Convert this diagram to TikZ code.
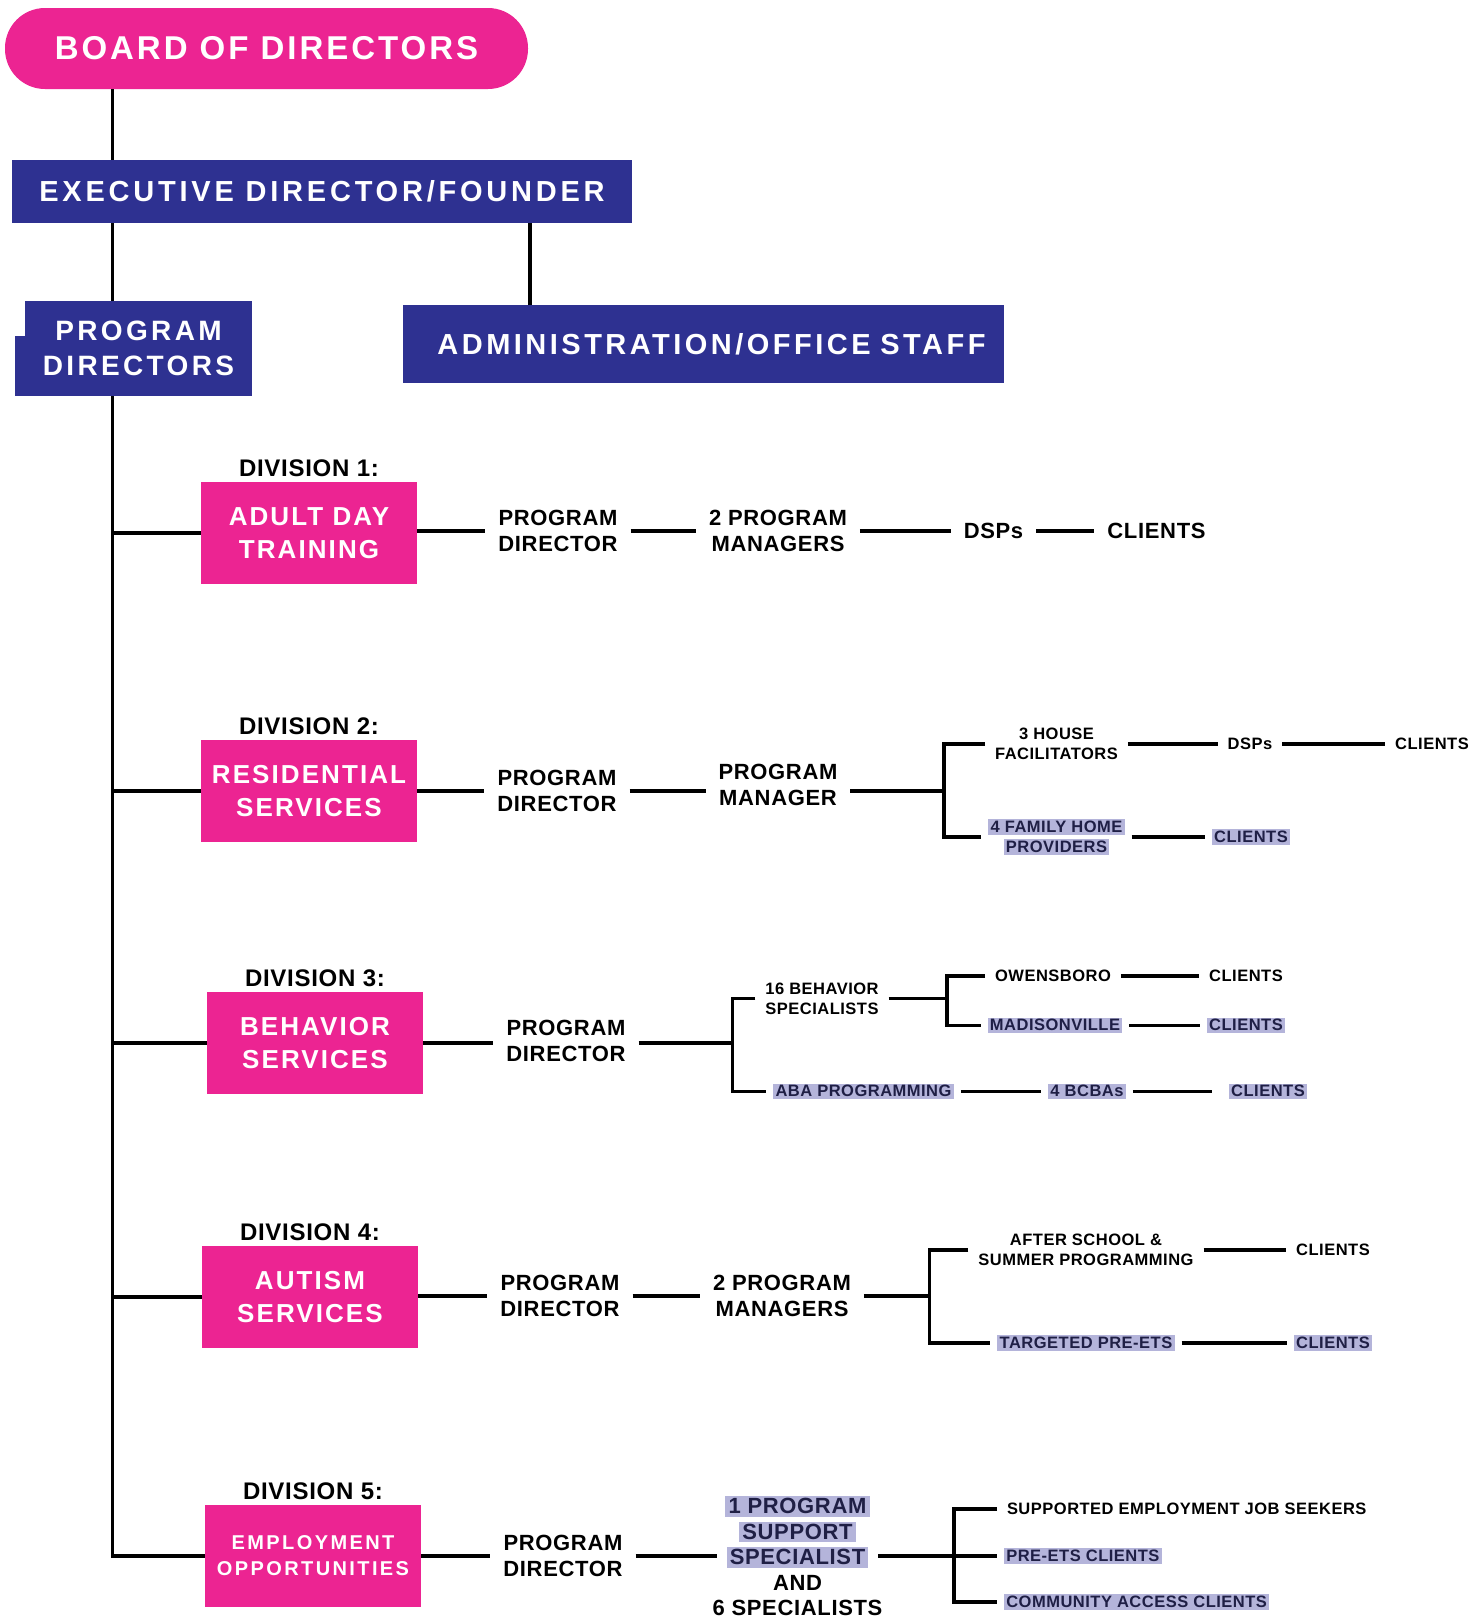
\documentclass[tikz,border=0pt]{standalone}
\usepackage{fontspec}
\setmainfont{Liberation Sans}
\usetikzlibrary{positioning}
\definecolor{OrgPink}{HTML}{EC2492}
\definecolor{OrgNavy}{HTML}{2E3191}
\definecolor{OrgLilac}{HTML}{B4B4DA}
\definecolor{OrgInk}{HTML}{1F1F45}
% bold, tracked text: size, baselineskip, letter spacing
\newcommand{\trk}[3]{\fontsize{#1}{#2}\selectfont\bfseries\addfontfeatures{LetterSpace=#3}}
% lilac marker behind a line of text
\newcommand{\hl}[1]{{\setlength{\fboxsep}{0.08em}\colorbox{OrgLilac}{\color{OrgInk}\rule[-0.06em]{0pt}{0.78em}\hspace{0.06em}#1\hspace{0.06em}}}}

\begin{document}
\begin{tikzpicture}[x=1pt, y=-1pt,
  every node/.style={inner sep=0pt, outer sep=0pt},
  navybox/.style={fill=OrgNavy, text=white, align=center},
  divbox/.style={fill=OrgPink, text=white, minimum width=216pt,
    minimum height=102pt, align=center, font=\trk{26}{33}{8}},
  divlab/.style={font=\trk{24}{28}{3}},
  txt/.style={align=center, inner xsep=13pt, font=\trk{22}{25.5}{3}},
  sml/.style={align=center, inner xsep=10pt, font=\trk{16.5}{19.6}{3}},
  hls/.style={sml, inner xsep=7pt},
  ln/.style={line width=3.2pt}
]
  \fill[white] (0,0) rectangle (1471,1618);
  \useasboundingbox (0,0) rectangle (1471,1618);

  % Top of the chart
  \node[navybox, fill=OrgPink, rounded corners=40pt, minimum width=523pt,
    minimum height=81pt, font=\trk{33}{38}{9}] (board) at (266.5,48.5) {BOARD OF DIRECTORS};
  \node[navybox, minimum width=620pt, minimum height=63pt,
    font=\trk{29}{34}{13}] (exec) at (322,191.5) {EXECUTIVE DIRECTOR/FOUNDER};
  \node[navybox, minimum width=227pt, minimum height=95pt,
    font=\trk{28}{35}{12}] (pdir) at (138.5,348.5) {PROGRAM\\DIRECTORS};
  \fill[OrgNavy] (pdir.south west) rectangle ++(-10.5,-60);
  \node[navybox, text width=564pt, inner xsep=18.5pt, minimum height=78pt,
    align=right, font=\trk{29}{34}{12}] (admin) at (703.5,344) {ADMINISTRATION/OFFICE STAFF};

  \coordinate (trunk) at (112.5,396);
  \draw[ln] (board.south -| trunk) -- (exec.north -| trunk);
  \draw[ln] (exec.south -| trunk) -- (pdir.north -| trunk);
  \path (admin.north west) ++(127,0) coordinate (admtop);
  \draw[ln] (admtop) -- (admtop |- exec.south);

  % Divisions
  \node[divbox] (div1) at (309,533) {ADULT DAY\\TRAINING};
  \node[divbox] (div2) at (309,791) {RESIDENTIAL\\SERVICES};
  \node[divbox] (div3) at (315,1043) {BEHAVIOR\\SERVICES};
  \node[divbox] (div4) at (310,1297) {AUTISM\\SERVICES};
  \node[divbox, font=\trk{20}{26}{12}] (div5) at (313,1556) {EMPLOYMENT\\OPPORTUNITIES};
  \foreach \i in {1,...,5}
    \node[divlab, above=5pt of div\i] (lab\i) {DIVISION \i:};

  \draw[ln] (trunk) |- (div5.west);
  \foreach \i in {1,...,4}
    \draw[ln] (trunk |- div\i.west) -- (div\i.west);

  % Division 1
  \node[txt] (pd1) at (558,531) {PROGRAM\\DIRECTOR};
  \node[txt] (pm1) at (778,531) {2 PROGRAM\\MANAGERS};
  \node[txt, text depth=0pt] (dsp1) at (993.5,531) {DSPs};
  \node[txt] (cl1) at (1156.5,531) {CLIENTS};
  \draw[ln] (div1.east |- pd1) -- (pd1) -- (pm1) -- (dsp1) -- (cl1);

  % Division 2
  \node[txt] (pd2) at (557,791) {PROGRAM\\DIRECTOR};
  \node[txt] (pm2) at (778,785) {PROGRAM\\MANAGER};
  \coordinate (b2) at (944,791);
  \node[sml] (hf2) at (1056.5,744) {3 HOUSE\\FACILITATORS};
  \node[sml, text depth=0pt] (dsp2) at (1250,744) {DSPs};
  \node[sml] (cl2) at (1432,744) {CLIENTS};
  \node[hls] (fh2) at (1056.5,837) {\hl{4 FAMILY HOME}\\\hl{PROVIDERS}};
  \node[hls] (cf2) at (1251,837) {\hl{CLIENTS}};
  \draw[ln] (div2) -- (pd2);
  \draw[ln] (pd2.east) -- (pd2.east -| pm2.west);
  \draw[ln] (pm2.east |- b2) -- (b2);
  \draw[ln] (hf2.west) -| (b2) |- (fh2.west);
  \draw[ln] (hf2) -- (dsp2) -- (cl2);
  \draw[ln] (fh2) -- (cf2);

  % Division 3
  \node[txt] (pd3) at (566,1041) {PROGRAM\\DIRECTOR};
  \coordinate (b3) at (732.5,1043);
  \node[sml] (bs3) at (822,998.6) {16 BEHAVIOR\\SPECIALISTS};
  \coordinate (b3b) at (947,998.6);
  \node[sml] (ow3) at (1053,976) {OWENSBORO};
  \node[sml] (co3) at (1246,976) {CLIENTS};
  \node[hls] (md3) at (1055,1025.4) {\hl{MADISONVILLE}};
  \node[hls] (cm3) at (1246,1025.4) {\hl{CLIENTS}};
  \node[hls] (aba3) at (863.5,1091.4) {\hl{ABA PROGRAMMING}};
  \node[hls] (bc3) at (1087,1091.4) {\hl{4 BCBAs}};
  \node[hls, inner xsep=17pt] (ca3) at (1268,1091.4) {\hl{CLIENTS}};
  \draw[ln] (div3) -- (div3 -| pd3.west);
  \draw[ln] (pd3.east |- b3) -- (b3);
  \draw[ln] (bs3.west) -| (b3) |- (aba3.west);
  \draw[ln] (bs3) -- (b3b);
  \draw[ln] (ow3.west) -| (b3b) |- (md3.west);
  \draw[ln] (ow3) -- (co3);
  \draw[ln] (md3) -- (cm3);
  \draw[ln] (aba3) -- (bc3) -- (ca3);

  % Division 4
  \node[txt] (pd4) at (560,1296) {PROGRAM\\DIRECTOR};
  \node[txt] (pm4) at (782,1296) {2 PROGRAM\\MANAGERS};
  \coordinate (b4) at (929.5,1296);
  \node[sml] (as4) at (1086,1250) {AFTER SCHOOL \&\\SUMMER PROGRAMMING};
  \node[sml] (cs4) at (1333,1250) {CLIENTS};
  \node[hls] (tp4) at (1086,1343) {\hl{TARGETED PRE-ETS}};
  \node[hls] (ct4) at (1333,1343) {\hl{CLIENTS}};
  \draw[ln] (div4.east |- pd4) -- (pd4) -- (pm4) -- (b4);
  \draw[ln] (as4.west) -| (b4) |- (tp4.west);
  \draw[ln] (as4) -- (cs4);
  \draw[ln] (tp4) -- (ct4);

  % Division 5
  \node[txt] (pd5) at (563,1556) {PROGRAM\\DIRECTOR};
  \node[txt, inner xsep=-4pt] (sp5) at (797.5,1556)
    {\hl{1 PROGRAM}\\\hl{SUPPORT}\\\hl{SPECIALIST}\\AND\\6 SPECIALISTS};
  \coordinate (b5) at (954,1556);
  \node[sml, anchor=west] (se5) at (997,1509) {SUPPORTED EMPLOYMENT JOB SEEKERS};
  \node[hls, anchor=west] (pe5) at (997,1556) {\hl{PRE-ETS CLIENTS}};
  \node[hls, anchor=west] (ca5) at (997,1602) {\hl{COMMUNITY ACCESS CLIENTS}};
  \draw[ln] (div5) -- (pd5) -- (sp5) -- (pe5);
  \draw[ln] (se5.west) -| (b5) |- (ca5.west);
\end{tikzpicture}
\end{document}
